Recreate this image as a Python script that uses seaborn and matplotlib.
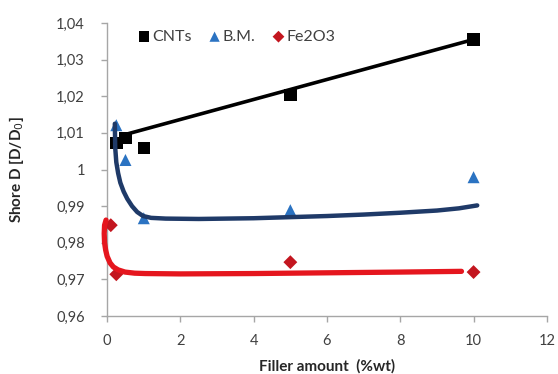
import matplotlib
matplotlib.use("Agg")
import matplotlib.pyplot as plt
import seaborn as sns

# Style
sns.set_theme(style="white")
plt.rcParams["font.family"] = ["Lato", "DejaVu Sans"]

# ------------------------------------
# Data
# ------------------------------------
cnt_x = [0.25, 0.5, 1, 5, 10]
cnt_y = [1.0072, 1.0086, 1.0059, 1.0203, 1.0355]

bm_x = [0.25, 0.5, 1, 5, 10]
bm_y = [1.0121, 1.0026, 0.9867, 0.9889, 0.9979]

fe_x = [0.1, 0.25, 5, 10]
fe_y = [0.9848, 0.9714, 0.9747, 0.9720]

# trend lines as drawn in the picture
cnt_fit_x = [0.4, 10]
cnt_fit_y = [1.0093, 1.0355]

bm_fit_x = [0.21, 0.22, 0.25, 0.3, 0.36, 0.45, 0.55, 0.68, 0.82, 0.98, 1.2,
            1.6, 2.5, 4, 5, 6, 7, 8, 9, 9.6, 10.1]
bm_fit_y = [1.0125, 1.0060, 1.0020, 0.9990, 0.9964, 0.9940, 0.9920, 0.9900,
            0.9884, 0.9873, 0.9868, 0.9866, 0.9865, 0.9867, 0.9870, 0.9873,
            0.9877, 0.9882, 0.9888, 0.9894, 0.9902]

fe_fit_x = [-0.03, -0.07, -0.08, -0.07, -0.04, 0.0, 0.08, 0.17, 0.3, 0.49,
            0.75, 1.04, 2, 4, 6, 8, 9.67]
fe_fit_y = [0.9862, 0.9848, 0.9825, 0.9800, 0.9780, 0.9763, 0.9745, 0.9734,
            0.9726, 0.9720, 0.9717, 0.9716, 0.9715, 0.9716, 0.9718, 0.9720,
            0.9722]

y_ticks = [0.96, 0.97, 0.98, 0.99, 1.00, 1.01, 1.02, 1.03, 1.04]
y_tick_labels = ["0,96", "0,97", "0,98", "0,99", "1", "1,01", "1,02", "1,03", "1,04"]
x_ticks = [0, 2, 4, 6, 8, 10, 12]

# ------------------------------------
# Plot
# ------------------------------------
fig, ax = plt.subplots(figsize=(5.58, 3.74), dpi=100)
fig.subplots_adjust(left=0.192, right=0.980, top=0.9385, bottom=0.155)

sns.scatterplot(x=cnt_x, y=cnt_y, marker="s", s=80, color="black",
                edgecolor="none", label="CNTs", ax=ax, zorder=3)
sns.scatterplot(x=bm_x, y=bm_y, marker="^", s=75, color="#2b73c2",
                edgecolor="none", label="B.M.", ax=ax, zorder=3)
sns.scatterplot(x=fe_x, y=fe_y, marker="D", s=50, color="#c3161f",
                edgecolor="none", label="Fe2O3", ax=ax, zorder=3)

sns.lineplot(x=bm_fit_x, y=bm_fit_y, sort=False, estimator=None,
             color="#1f3a68", lw=3.2, ax=ax, zorder=4, legend=False)
sns.lineplot(x=fe_fit_x, y=fe_fit_y, sort=False, estimator=None,
             color="#e5161e", lw=3.8, ax=ax, zorder=4, legend=False,
             clip_on=False)
sns.lineplot(x=cnt_fit_x, y=cnt_fit_y, sort=False, estimator=None,
             color="black", lw=2.6, ax=ax, zorder=5, legend=False)

ax.set_xlim(0, 12)
ax.set_ylim(0.96, 1.04)
ax.set_xticks(x_ticks)
ax.set_yticks(y_ticks)
ax.set_yticklabels(y_tick_labels)

for side in ["top", "right"]:
    ax.spines[side].set_visible(False)
for side in ["left", "bottom"]:
    ax.spines[side].set_color("#a6a6a6")
    ax.spines[side].set_linewidth(1.0)

ax.tick_params(axis="both", direction="out", length=4, width=1,
               color="#a6a6a6", labelsize=10.5, labelcolor="#404040",
               left=True, bottom=True)
ax.tick_params(axis="y", pad=12)
ax.tick_params(axis="x", pad=9)

ax.set_xlabel("Filler amount  (%wt)", fontsize=11, fontweight="bold",
              color="#262626", labelpad=8)
ax.set_ylabel("Shore D [D/D$_0$]", fontsize=11, fontweight="bold",
              color="#262626", labelpad=22)

leg = ax.legend(loc="center", bbox_to_anchor=(0.295, 0.953), ncol=3,
                frameon=False, fontsize=11.5, handlelength=0.7,
                handletextpad=0.15, columnspacing=1.1, borderaxespad=0,
                markerscale=0.85)
for t in leg.get_texts():
    t.set_color("#404040")

fig.savefig("out.png", dpi=100)
